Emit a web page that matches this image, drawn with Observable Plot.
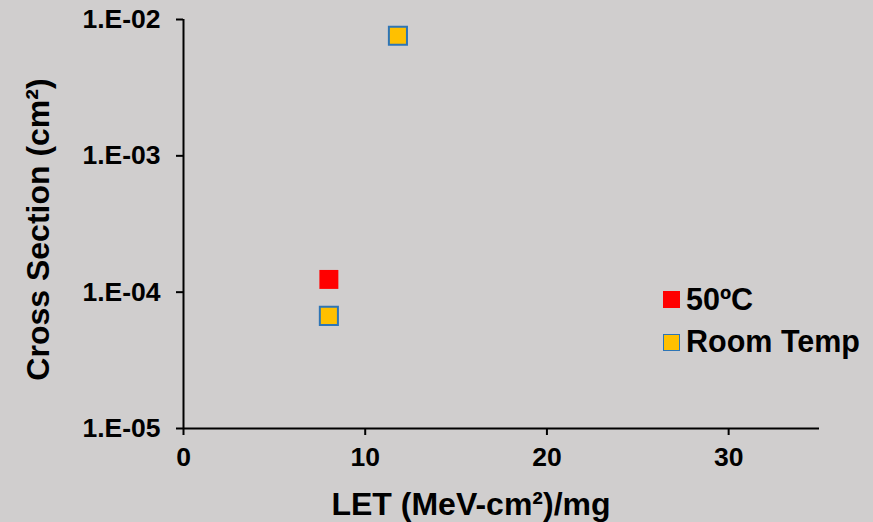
<!DOCTYPE html>
<html>
<head>
<meta charset="utf-8">
<script src="https://cdn.jsdelivr.net/npm/d3@7"></script>
<script src="https://cdn.jsdelivr.net/npm/@observablehq/plot@0.6"></script>
<style>
  html, body { margin: 0; padding: 0; background: #D0CECE; }
  #wrap { position: relative; width: 873px; height: 522px; background: #D0CECE;
          font-family: "Liberation Sans", Arial, sans-serif; font-weight: bold; color: #000; }
  .lg-sw { position: absolute; width: 17px; height: 17px; box-sizing: border-box; }
  .lg-tx { position: absolute; font-size: 30.5px; line-height: 30.5px; white-space: nowrap; }
</style>
</head>
<body>
<div id="wrap"></div>
<script>
// ---- data ----
const seriesNames = ["50ºC", "Room Temp"];
const seriesFill = ["#FF0000", "#FFC000"];
const seriesStroke = ["none", "#2E75B6"];
const hotLET = [8.0];
const hotXS = [1.24e-4];
const roomLET = [8.0, 11.8];
const roomXS = [6.7e-5, 7.6e-3];
const xTicks = [0, 10, 20, 30];
const yTicks = [1e-5, 1e-4, 1e-3, 1e-2];
const yTickLabels = ["1.E-05", "1.E-04", "1.E-03", "1.E-02"];
const xTitle = "LET (MeV-cm²)/mg";
const yTitle = "Cross Section (cm²)";

const hot = hotLET.map((x, i) => ({x, y: hotXS[i]}));
const room = roomLET.map((x, i) => ({x, y: roomXS[i]}));

const chart = Plot.plot({
  width: 873,
  height: 522,
  marginLeft: 183,
  marginRight: 54,
  marginTop: 19,
  marginBottom: 94,
  style: {background: "transparent", fontFamily: "'Liberation Sans', Arial, sans-serif", fontWeight: "bold", fontSize: "26.5px", color: "#000", overflow: "visible"},
  x: {domain: [0, 35]},
  y: {type: "log", domain: [1e-5, 1e-2]},
  marks: [
    Plot.axisX({ticks: xTicks, tickSize: 7, tickPadding: 12, label: null, strokeWidth: 2, stroke: "#000", fill: "#000"}),
    Plot.axisY({ticks: yTicks, tickFormat: d => yTickLabels[yTicks.indexOf(d)], tickSize: 7, tickPadding: 16, label: null, strokeWidth: 2, stroke: "#000", fill: "#000"}),
    Plot.ruleX([0], {stroke: "#000", strokeWidth: 2}),
    Plot.ruleY([1e-5], {stroke: "#000", strokeWidth: 2}),
    Plot.dot(hot, {x: "x", y: "y", symbol: "square", r: 10.7, fill: seriesFill[0], stroke: seriesStroke[0]}),
    Plot.dot(room, {x: "x", y: "y", symbol: "square", r: 10.2, fill: seriesFill[1], stroke: seriesStroke[1], strokeWidth: 2}),
    Plot.text([yTitle], {text: d => d, frameAnchor: "left", rotate: -90, dx: -145, dy: 5.5, fontSize: 32, fontWeight: "bold", textAnchor: "middle", lineAnchor: "middle", fill: "#000"}),
    Plot.text([xTitle], {text: d => d, frameAnchor: "bottom", dx: -30.5, dy: 76.5, fontSize: 32, fontWeight: "bold", textAnchor: "middle", lineAnchor: "middle", fill: "#000"})
  ]
});

const wrap = document.getElementById("wrap");
wrap.appendChild(chart);

// legend overlay
const legendTops = [284.2, 326.2];
const swatchTops = [291, 334];
seriesNames.forEach((name, i) => {
  const sw = document.createElement("div");
  sw.className = "lg-sw";
  sw.style.left = "663px";
  sw.style.top = swatchTops[i] + "px";
  sw.style.background = seriesFill[i];
  if (seriesStroke[i] !== "none") sw.style.border = "1.5px solid " + seriesStroke[i];
  wrap.appendChild(sw);
  const tx = document.createElement("div");
  tx.className = "lg-tx";
  tx.style.left = "686px";
  tx.style.top = legendTops[i] + "px";
  tx.textContent = name;
  wrap.appendChild(tx);
});
chart.style.position = "absolute";
chart.style.left = "0";
chart.style.top = "0";
</script>
</body>
</html>
